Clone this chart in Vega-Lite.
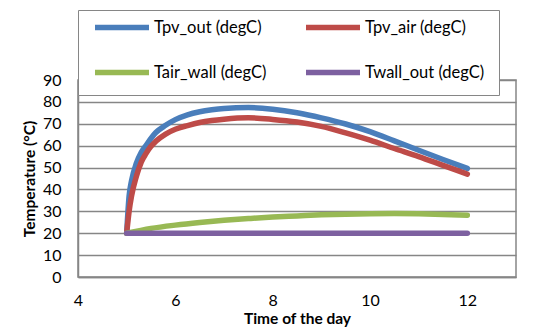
{
  "$schema": "https://vega.github.io/schema/vega-lite/v6.json",
  "width": 438,
  "height": 197,
  "autosize": {"type": "none"},
  "padding": {"left": 78, "top": 80, "right": 20, "bottom": 52},
  "background": "white",
  "config": {
    "font": "Lato",
    "view": {"stroke": "#868686", "strokeWidth": 1.5},
    "axis": {"labelFont": "Lato", "labelFontSize": 16, "labelColor": "black", "titleFont": "Lato", "titleFontSize": 15.5, "titleFontWeight": "bold", "titleColor": "black"},
    "legend": {"labelFont": "Lato", "labelFontSize": 16.5, "labelColor": "black"}
  },
  "data": {
    "values": [
      {"t": 5, "s": "Tpv_out (degC)", "v": 20},
      {"t": 5.05, "s": "Tpv_out (degC)", "v": 37},
      {"t": 5.1, "s": "Tpv_out (degC)", "v": 44},
      {"t": 5.2, "s": "Tpv_out (degC)", "v": 52},
      {"t": 5.3, "s": "Tpv_out (degC)", "v": 57},
      {"t": 5.4, "s": "Tpv_out (degC)", "v": 60.2},
      {"t": 5.6, "s": "Tpv_out (degC)", "v": 66},
      {"t": 5.8, "s": "Tpv_out (degC)", "v": 69.3},
      {"t": 6, "s": "Tpv_out (degC)", "v": 71.9},
      {"t": 6.25, "s": "Tpv_out (degC)", "v": 74.1},
      {"t": 6.5, "s": "Tpv_out (degC)", "v": 75.5},
      {"t": 6.75, "s": "Tpv_out (degC)", "v": 76.4},
      {"t": 7, "s": "Tpv_out (degC)", "v": 77},
      {"t": 7.5, "s": "Tpv_out (degC)", "v": 77.4},
      {"t": 8, "s": "Tpv_out (degC)", "v": 76.6},
      {"t": 8.5, "s": "Tpv_out (degC)", "v": 75},
      {"t": 9, "s": "Tpv_out (degC)", "v": 72.7},
      {"t": 9.5, "s": "Tpv_out (degC)", "v": 69.9},
      {"t": 10, "s": "Tpv_out (degC)", "v": 66.4},
      {"t": 10.5, "s": "Tpv_out (degC)", "v": 62.2},
      {"t": 11, "s": "Tpv_out (degC)", "v": 57.9},
      {"t": 11.5, "s": "Tpv_out (degC)", "v": 53.7},
      {"t": 12, "s": "Tpv_out (degC)", "v": 49.6},
      {"t": 5, "s": "Tpv_air (degC)", "v": 20},
      {"t": 5.05, "s": "Tpv_air (degC)", "v": 30},
      {"t": 5.1, "s": "Tpv_air (degC)", "v": 37},
      {"t": 5.2, "s": "Tpv_air (degC)", "v": 46},
      {"t": 5.3, "s": "Tpv_air (degC)", "v": 52.5},
      {"t": 5.4, "s": "Tpv_air (degC)", "v": 56.5},
      {"t": 5.5, "s": "Tpv_air (degC)", "v": 59.7},
      {"t": 5.6, "s": "Tpv_air (degC)", "v": 62},
      {"t": 5.8, "s": "Tpv_air (degC)", "v": 65.3},
      {"t": 6, "s": "Tpv_air (degC)", "v": 67.5},
      {"t": 6.25, "s": "Tpv_air (degC)", "v": 69.2},
      {"t": 6.5, "s": "Tpv_air (degC)", "v": 70.6},
      {"t": 6.75, "s": "Tpv_air (degC)", "v": 71.5},
      {"t": 7, "s": "Tpv_air (degC)", "v": 72.1},
      {"t": 7.5, "s": "Tpv_air (degC)", "v": 72.7},
      {"t": 8, "s": "Tpv_air (degC)", "v": 72},
      {"t": 8.5, "s": "Tpv_air (degC)", "v": 70.8},
      {"t": 9, "s": "Tpv_air (degC)", "v": 68.8},
      {"t": 9.5, "s": "Tpv_air (degC)", "v": 65.8},
      {"t": 10, "s": "Tpv_air (degC)", "v": 62.5},
      {"t": 10.5, "s": "Tpv_air (degC)", "v": 58.7},
      {"t": 11, "s": "Tpv_air (degC)", "v": 55},
      {"t": 11.5, "s": "Tpv_air (degC)", "v": 51},
      {"t": 12, "s": "Tpv_air (degC)", "v": 47},
      {"t": 5, "s": "Tair_wall (degC)", "v": 20},
      {"t": 5.5, "s": "Tair_wall (degC)", "v": 22.2},
      {"t": 6, "s": "Tair_wall (degC)", "v": 23.7},
      {"t": 6.5, "s": "Tair_wall (degC)", "v": 24.9},
      {"t": 7, "s": "Tair_wall (degC)", "v": 25.9},
      {"t": 7.5, "s": "Tair_wall (degC)", "v": 26.7},
      {"t": 8, "s": "Tair_wall (degC)", "v": 27.4},
      {"t": 8.5, "s": "Tair_wall (degC)", "v": 27.9},
      {"t": 9, "s": "Tair_wall (degC)", "v": 28.4},
      {"t": 9.5, "s": "Tair_wall (degC)", "v": 28.7},
      {"t": 10, "s": "Tair_wall (degC)", "v": 28.9},
      {"t": 10.5, "s": "Tair_wall (degC)", "v": 29},
      {"t": 11, "s": "Tair_wall (degC)", "v": 28.9},
      {"t": 11.5, "s": "Tair_wall (degC)", "v": 28.6},
      {"t": 12, "s": "Tair_wall (degC)", "v": 28.2},
      {"t": 5, "s": "Twall_out (degC)", "v": 20},
      {"t": 8, "s": "Twall_out (degC)", "v": 20},
      {"t": 12, "s": "Twall_out (degC)", "v": 20}
    ]
  },
  "mark": {"type": "line", "strokeWidth": 5.5, "strokeCap": "round", "interpolate": "monotone"},
  "encoding": {
    "x": {
      "field": "t", "type": "quantitative",
      "scale": {"domain": [4, 13], "nice": false, "zero": false},
      "axis": {"title": "Time of the day", "values": [4, 6, 8, 10, 12], "grid": false, "ticks": false, "domain": true, "domainColor": "#868686", "domainWidth": 1.5, "labelPadding": 15, "titlePadding": 3, "labelFlush": false}
    },
    "y": {
      "field": "v", "type": "quantitative",
      "scale": {"domain": [0, 90], "nice": false},
      "axis": {"title": "Temperature (°C)", "values": [0, 10, 20, 30, 40, 50, 60, 70, 80, 90], "grid": true, "gridColor": "#868686", "gridWidth": 1.5, "ticks": false, "domainColor": "#868686", "domainWidth": 1.5, "labelPadding": 17, "titlePadding": 5}
    },
    "color": {
      "field": "s", "type": "nominal",
      "scale": {"domain": ["Tpv_out (degC)", "Tpv_air (degC)", "Tair_wall (degC)", "Twall_out (degC)"], "range": ["#4A7EBB", "#BE4B48", "#98B954", "#7D60A0"]},
      "legend": {
        "title": null, "orient": "none", "legendX": 0, "legendY": -70,
        "direction": "horizontal", "columns": 2,
        "symbolType": "stroke", "symbolSize": 2916, "symbolStrokeWidth": 5.5,
        "clipHeight": 7, "rowPadding": 28, "padding": 14, "columnPadding": 36,
        "labelOffset": 2, "strokeColor": "#868686", "fillColor": "white"
      }
    }
  }
}
